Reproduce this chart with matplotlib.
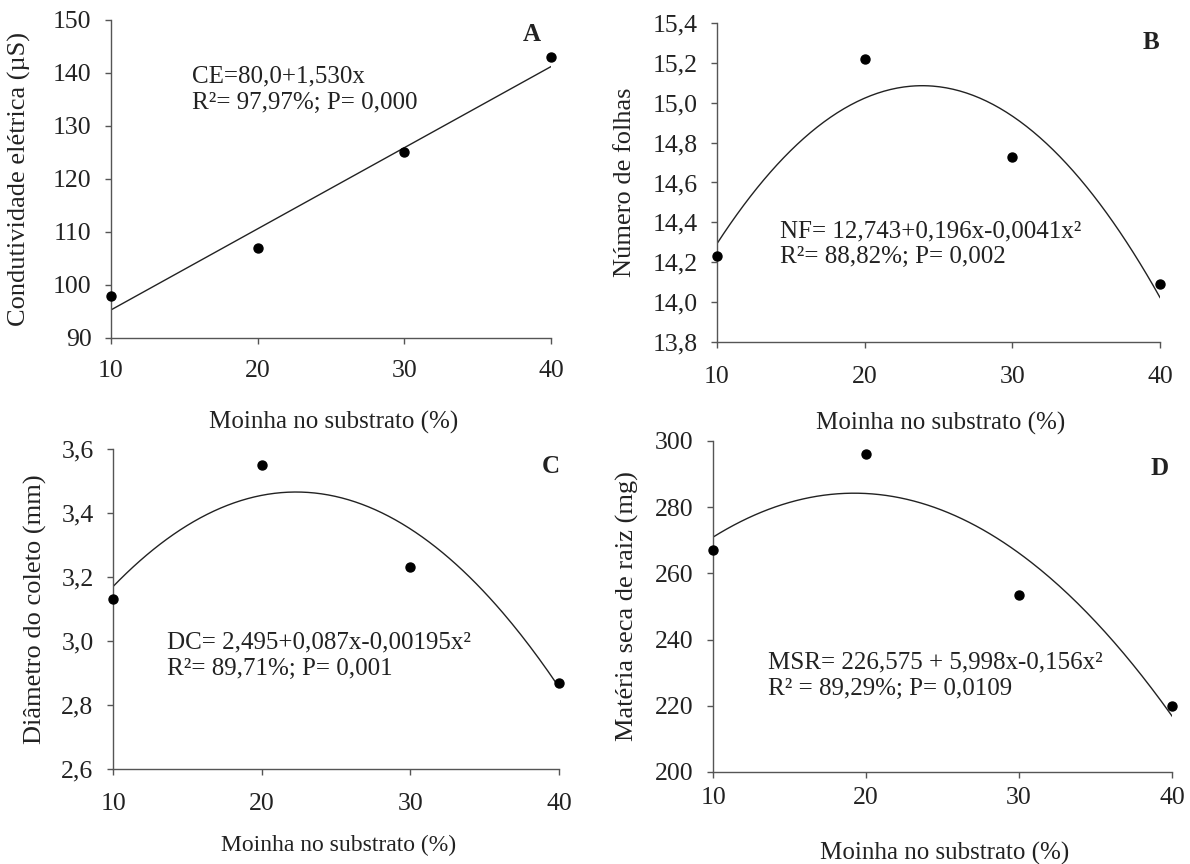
import numpy as np
import matplotlib
matplotlib.use("Agg")
import matplotlib.pyplot as plt
from matplotlib.ticker import FuncFormatter

plt.rcParams['font.family'] = ['Liberation Serif', 'DejaVu Serif']

moinha = [10, 20, 30, 40]

# medias observadas
ce = [98, 107, 125, 143]
nf = [14.23, 15.22, 14.73, 14.09]
dc = [3.13, 3.55, 3.23, 2.87]
msr = [267, 296, 253.5, 220]

# coeficientes das equacoes ajustadas (c0 + c1*x + c2*x^2)
coef_ce = [80.0, 1.530, 0.0]
coef_nf = [12.743, 0.196, -0.0041]
coef_dc = [2.495, 0.087, -0.00195]
coef_msr = [226.575, 5.998, -0.156]

eq_ce = "CE=80,0+1,530x\nR²= 97,97%; P= 0,000"
eq_nf = "NF= 12,743+0,196x-0,0041x²\nR²= 88,82%; P= 0,002"
eq_dc = "DC= 2,495+0,087x-0,00195x²\nR²= 89,71%; P= 0,001"
eq_msr = "MSR= 226,575 + 5,998x-0,156x²\nR² = 89,29%; P= 0,0109"

ylab_ce = "Condutividade elétrica (µS)"
ylab_nf = "Número de folhas"
ylab_dc = "Diâmetro do coleto (mm)"
ylab_msr = "Matéria seca de raiz (mg)"
xlab = "Moinha no substrato (%)"

yticks_ce = [90, 100, 110, 120, 130, 140, 150]
yticks_nf = [13.8, 14.0, 14.2, 14.4, 14.6, 14.8, 15.0, 15.2, 15.4]
yticks_dc = [2.6, 2.8, 3.0, 3.2, 3.4, 3.6]
yticks_msr = [200, 220, 240, 260, 280, 300]

fig = plt.figure(figsize=(11.9, 8.64), dpi=100)

paineis = [
    # pos, y, coef, yticks, casas, ylabel, eq, eq pos, letra, letra pos, ylabel x, xlabel y, pad, fonte xlabel
    ([0.0933, 0.6088, 0.3697, 0.3681], ce, coef_ce, yticks_ce, 0, ylab_ce, eq_ce,
     (15.5, 136.9), "A", (0.957, 0.953), -0.209, -0.264, 12, 18),
    ([0.6025, 0.6042, 0.3723, 0.3692], nf, coef_nf, yticks_nf, 1, ylab_nf, eq_nf,
     (14.3, 14.29), "B", (0.98, 0.94), -0.208, -0.254, 13, 18),
    ([0.0950, 0.1100, 0.3748, 0.3704], dc, coef_dc, yticks_dc, 1, ylab_dc, eq_dc,
     (13.6, 2.955), "C", (0.982, 0.944), -0.175, -0.2375, 13, 17),
    ([0.5992, 0.1065, 0.3857, 0.3831], msr, coef_msr, yticks_msr, 0, ylab_msr, eq_msr,
     (13.6, 229.1), "D", (0.972, 0.918), -0.187, -0.245, 7, 18),
]

xs = np.linspace(10, 40, 200)

for pos, y, coef, yt, casas, ylab, eq, eqpos, letra, lpos, ylx, xly, xpad, xfs in paineis:
    ax = fig.add_axes(pos)
    ax.plot(xs, np.polyval(coef[::-1], xs), color='#222222', lw=1.0)
    ax.scatter(moinha, y, s=42, color='black', zorder=3, clip_on=False)

    ax.set_xlim(10, 40)
    ax.set_ylim(yt[0], yt[-1])
    ax.set_xticks(moinha)
    ax.set_yticks(yt)
    ax.yaxis.set_major_formatter(FuncFormatter(
        lambda v, p, c=casas: f"{v:.{c}f}".replace(".", ",")))

    for s in ['top', 'right']:
        ax.spines[s].set_visible(False)
    for s in ['left', 'bottom']:
        ax.spines[s].set_color('#555555')
        ax.spines[s].set_linewidth(1.0)
    ax.tick_params(axis='both', direction='out', length=4, width=1.0,
                   colors='#555555', labelcolor='#222222', labelsize=18.5)
    ax.tick_params(axis='y', pad=10)
    ax.tick_params(axis='x', pad=xpad)

    ax.set_ylabel(ylab, fontsize=19, color='#222222')
    ax.yaxis.label.set_va('center')
    ax.yaxis.set_label_coords(ylx, 0.5)
    ax.set_xlabel(xlab, fontsize=xfs, color='#222222')
    ax.xaxis.label.set_va('center')
    ax.xaxis.set_label_coords(0.505, xly)

    ax.text(eqpos[0], eqpos[1], eq, fontsize=18, color='#222222',
            ha='left', va='center', linespacing=1.25)
    ax.text(lpos[0], lpos[1], letra, transform=ax.transAxes, fontsize=18,
            fontweight='bold', ha='center', va='center', color='#222222')

fig.savefig("out.png", dpi=100)
